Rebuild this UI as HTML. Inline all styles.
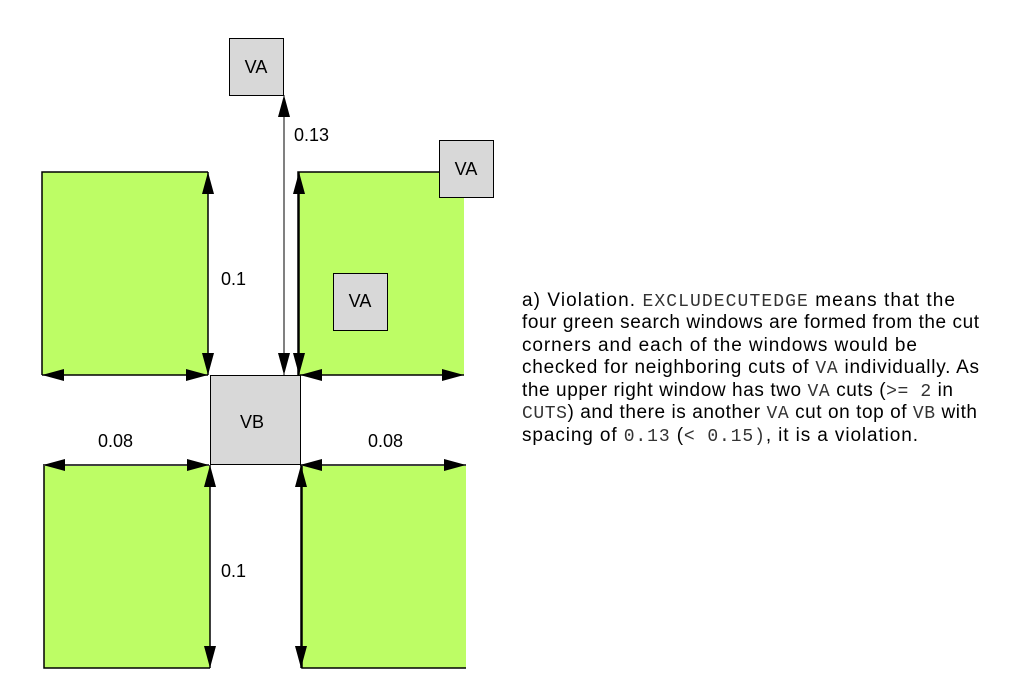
<!DOCTYPE html>
<html><head><style>
html,body{margin:0;padding:0;background:#fff;width:1013px;height:688px;overflow:hidden}
svg{display:block}
.t{font-family:"Liberation Sans",sans-serif;font-size:18px;fill:#000}
.b{font-family:"Liberation Sans",sans-serif;font-size:19px;fill:#000}
.m{font-family:"Liberation Mono",monospace;font-size:18px;fill:#333}
</style></head><body>
<svg width="1013" height="688" viewBox="0 0 1013 688" xmlns="http://www.w3.org/2000/svg">
<defs>
<marker id="a" viewBox="0 0 22 12" refX="22" refY="6" markerWidth="22" markerHeight="12" markerUnits="userSpaceOnUse" orient="auto-start-reverse"><path d="M0,0L22,6L0,12z" fill="#000"/></marker>
</defs>
<g fill="#bdfd65" stroke="none">
<rect x="42" y="172" width="166" height="203"/>
<rect x="298" y="172" width="166" height="203"/>
<rect x="44" y="466" width="166" height="202"/>
<rect x="302" y="466" width="164" height="202"/>
</g>
<g stroke="#000" stroke-width="1.5" fill="none">
<path d="M42,375V172H208"/>
<path d="M298,375V172H440"/>
<path d="M44,466V668H210"/>
<path d="M302,466V668H466"/>
</g>
<g fill="#d8d8d8" stroke="#000" stroke-width="1">
<rect x="229.5" y="38.5" width="54" height="57"/>
<rect x="439.5" y="140.5" width="54" height="57"/>
<rect x="333.5" y="273.5" width="54" height="57"/>
<rect x="210.5" y="375.5" width="90" height="89"/>
</g>
<g class="t" text-anchor="middle">
<text x="256" y="73">VA</text>
<text x="466" y="175">VA</text>
<text x="360" y="307">VA</text>
<text x="252" y="428">VB</text>
</g>
<g stroke="#000" stroke-width="1.5" marker-start="url(#a)" marker-end="url(#a)">
<line x1="42" y1="375" x2="208" y2="375"/>
<line x1="300" y1="375" x2="464" y2="375"/>
<line x1="208" y1="172" x2="208" y2="375"/>
<line x1="284" y1="95" x2="284" y2="375" stroke-width="1"/>
<line x1="299" y1="172" x2="299" y2="375"/>
<line x1="43" y1="465" x2="209" y2="465"/>
<line x1="300" y1="465" x2="466" y2="465"/>
<line x1="210" y1="465" x2="210" y2="668"/>
<line x1="301" y1="465" x2="301" y2="668"/>
</g>
<g class="t">
<text x="294" y="141">0.13</text>
<text x="221" y="285">0.1</text>
<text x="221" y="577">0.1</text>
<text x="98" y="447">0.08</text>
<text x="368" y="447">0.08</text>
</g>
<g class="b">
<text x="522" y="306" textLength="433" lengthAdjust="spacing">a) Violation. <tspan class="m">EXCLUDECUTEDGE</tspan> means that the</text>
<text x="522" y="328" textLength="457" lengthAdjust="spacing">four green search windows are formed from the cut</text>
<text x="522" y="351" textLength="395" lengthAdjust="spacing">corners and each of the windows would be</text>
<text x="522" y="373" textLength="457" lengthAdjust="spacing">checked for neighboring cuts of <tspan class="m">VA</tspan> individually. As</text>
<text x="522" y="396" textLength="431" lengthAdjust="spacing">the upper right window has two <tspan class="m">VA</tspan> cuts (<tspan class="m">&gt;= 2</tspan> in</text>
<text x="522" y="418" textLength="455" lengthAdjust="spacing"><tspan class="m">CUTS</tspan>) and there is another <tspan class="m">VA</tspan> cut on top of <tspan class="m">VB</tspan> with</text>
<text x="522" y="441" textLength="396" lengthAdjust="spacing">spacing of <tspan class="m">0.13</tspan> (<tspan class="m">&lt; 0.15)</tspan>, it is a violation.</text>
</g>
</svg>
</body></html>
